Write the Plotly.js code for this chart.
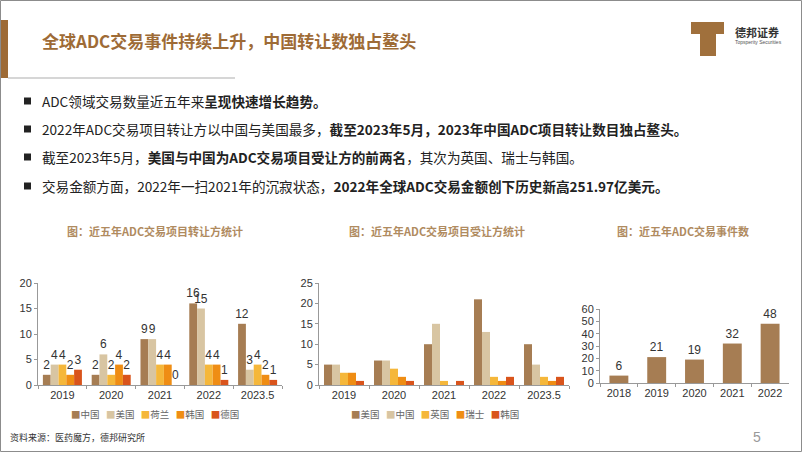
<!DOCTYPE html>
<html><head><meta charset="utf-8">
<script src="https://cdn.plot.ly/plotly-3.0.1.min.js"></script>
<style>html,body{margin:0;padding:0;background:#fff}#chart{width:802px;height:452px}</style>
</head><body><div id="chart"></div>
<script>
// ---- data ----
const years1 = ['2019','2020','2021','2022','2023.5'];
const transferorNames = ['中国','美国','荷兰','韩国','德国'];
const transferorChina = [2,2,9,16,12];
const transferorUS = [4,6,9,15,3];
const transferorNL = [4,2,4,4,4];
const transferorKR = [2,4,4,4,2];
const transferorDE = [3,2,0,1,1];

const transfereeNames = ['美国','中国','英国','瑞士','韩国'];
const transfereeUS = [5,6,10,21,10];
const transfereeChina = [5,6,15,13,5];
const transfereeUK = [3,4,1,2,2];
const transfereeCH = [3,2,0,1,1];
const transfereeKR = [1,1,1,2,2];

const years3 = ['2018','2019','2020','2021','2022'];
const eventCounts = [6,21,19,32,48];

// ---- style ----
const W = 802, H = 452;
const px = x => x / W;
const py = y => 1 - y / H;
const palette = ['#A67D53','#D8C5A2','#F5B73A','#EF8D14','#D9541C'];
const brown = '#9E6B36';
const CJK = 'Noto Sans CJK SC, sans-serif';
const LAT = 'Liberation Sans, Arial, sans-serif';

const traces = [];
[transferorChina, transferorUS, transferorNL, transferorKR, transferorDE].forEach((vals, i) => {
  traces.push({type:'bar', x: years1, y: vals, name: transferorNames[i], xaxis:'x', yaxis:'y',
    marker:{color: palette[i]}, text: vals.map(String), textposition:'outside', cliponaxis:false,
    constraintext:'none',
    textfont:{family: LAT, size: 12, color:'#333'}, showlegend:false, hoverinfo:'skip'});
});
[transfereeUS, transfereeChina, transfereeUK, transfereeCH, transfereeKR].forEach((vals, i) => {
  traces.push({type:'bar', x: years1, y: vals, name: transfereeNames[i], xaxis:'x2', yaxis:'y2',
    marker:{color: palette[i]}, showlegend:false, hoverinfo:'skip'});
});
traces.push({type:'bar', x: years3, y: eventCounts, xaxis:'x3', yaxis:'y3', width:0.5,
  marker:{color: palette[0]}, text: eventCounts.map(String), textposition:'outside', cliponaxis:false,
  constraintext:'none',
  textfont:{family: LAT, size: 12, color:'#333'}, showlegend:false, hoverinfo:'skip'});

const xax = (d) => ({domain: d, type:'category', showline:true, linecolor:'#999', linewidth:1,
  ticks:'outside', ticklen:3, tickcolor:'#999', tickson:'boundaries', showgrid:false, zeroline:false,
  tickfont:{family: LAT, size: 11, color:'#333'}, fixedrange:true});
const yax = (d, r, dt, anchor) => ({domain: d, range: r, dtick: dt, showline:true, linecolor:'#999', linewidth:1,
  ticks:'outside', ticklen:3, tickcolor:'#999', showgrid:false, zeroline:false, anchor: anchor,
  tickfont:{family: LAT, size: 11, color:'#333'}, fixedrange:true});

function legendText(names) {
  return names.map((n, i) => `<span style="color:${palette[i]}">■</span>${n}`).join('&nbsp;&nbsp;&nbsp;');
}

const bullets = [
  'ADC领域交易数量近五年来<b>呈现快速增长趋势。</b>',
  '2022年ADC交易项目转让方以中国与美国最多，<b>截至2023年5月，2023年中国ADC项目转让数目独占鳌头。</b>',
  '截至2023年5月，<b>美国与中国为ADC交易项目受让方的前两名</b>，其次为英国、瑞士与韩国。',
  '交易金额方面，2022年一扫2021年的沉寂状态，<b>2022年全球ADC交易金额创下历史新高251.97亿美元。</b>'
];
const bulletY = [101, 129, 157, 186];

const annotations = [
  {text:'<b>全球ADC交易事件持续上升，中国转让数独占鳌头</b>', x:px(40), y:py(41), xanchor:'left', yanchor:'middle',
   font:{family: CJK, size: 17, color: brown}},
  {text:'<b>德邦证券</b>', x:px(733), y:py(32), xanchor:'left', yanchor:'middle', font:{family: CJK, size: 11, color:'#333'}},
  {text:'Topsperity Securities', x:px(733), y:py(42), xanchor:'left', yanchor:'middle', font:{family: LAT, size: 5, color:'#555'}},
  {text:'<b>图：近五年ADC交易项目转让方统计</b>', x:px(155), y:py(231), xanchor:'center', yanchor:'middle', font:{family: CJK, size: 11, color:'#B08B5F'}},
  {text:'<b>图：近五年ADC交易项目受让方统计</b>', x:px(437), y:py(231), xanchor:'center', yanchor:'middle', font:{family: CJK, size: 11, color:'#B08B5F'}},
  {text:'<b>图：近五年ADC交易事件数</b>', x:px(683), y:py(231), xanchor:'center', yanchor:'middle', font:{family: CJK, size: 11, color:'#B08B5F'}},
  {text: legendText(transferorNames), x:px(155), y:py(414), xanchor:'center', yanchor:'middle', font:{family: CJK, size: 9.5, color:'#666'}},
  {text: legendText(transfereeNames), x:px(435), y:py(414), xanchor:'center', yanchor:'middle', font:{family: CJK, size: 9.5, color:'#666'}},
  {text:'资料来源：医药魔方，德邦研究所', x:px(8), y:py(437), xanchor:'left', yanchor:'middle', font:{family: CJK, size: 9, color:'#333'}},
  {text:'5', x:px(757), y:py(437), xanchor:'center', yanchor:'middle', font:{family: LAT, size: 14, color:'#999'}}
];
bullets.forEach((t, i) => annotations.push({text: t, x:px(40), y:py(bulletY[i]), xanchor:'left', yanchor:'middle',
  font:{family: CJK, size: 13.6, color:'#222'}}));
annotations.forEach(a => { a.xref='paper'; a.yref='paper'; a.showarrow=false; });

const shapes = [
  {type:'rect', x0:px(0.5), x1:px(801.5), y0:py(0.5), y1:py(451.5), line:{color:'#8c8c8c', width:1}},
  {type:'rect', x0:px(1), x1:px(8), y0:py(20), y1:py(78), fillcolor: brown, line:{width:0}},
  {type:'line', x0:px(8), x1:px(235), y0:py(78), y1:py(78), line:{color:'#d6d6d6', width:2}},
  {type:'path', path:`M ${px(691)} ${py(22)} L ${px(724)} ${py(22)} L ${px(724)} ${py(34)} L ${px(716)} ${py(34)} L ${px(716)} ${py(56)} L ${px(700)} ${py(56)} L ${px(700)} ${py(34)} L ${px(691)} ${py(34)} Z`,
   fillcolor:'#A0703C', line:{width:0}}
];
bulletY.forEach(y => shapes.push({type:'rect', x0:px(24), x1:px(31), y0:py(y-3.5), y1:py(y+3.5), fillcolor:'#222', line:{width:0}}));
shapes.forEach(s => { s.xref='paper'; s.yref='paper'; });

const layout = {
  width: W, height: H, margin:{l:0, r:0, t:0, b:0},
  paper_bgcolor:'#fff', plot_bgcolor:'rgba(0,0,0,0)',
  barmode:'group', bargap:0.2, bargroupgap:0,
  showlegend:false,
  xaxis: Object.assign(xax([px(38), px(282)]), {anchor:'y'}),
  yaxis: yax([py(385), py(283)], [0,20], 5, 'x'),
  xaxis2: Object.assign(xax([px(319), px(569)]), {anchor:'y2'}),
  yaxis2: yax([py(385), py(283)], [0,25], 5, 'x2'),
  xaxis3: Object.assign(xax([px(600), px(789)]), {anchor:'y3'}),
  yaxis3: yax([py(383), py(309)], [0,60], 10, 'x3'),
  annotations, shapes
};
Plotly.newPlot('chart', traces, layout, {staticPlot:true, displayModeBar:false});
</script></body></html>
